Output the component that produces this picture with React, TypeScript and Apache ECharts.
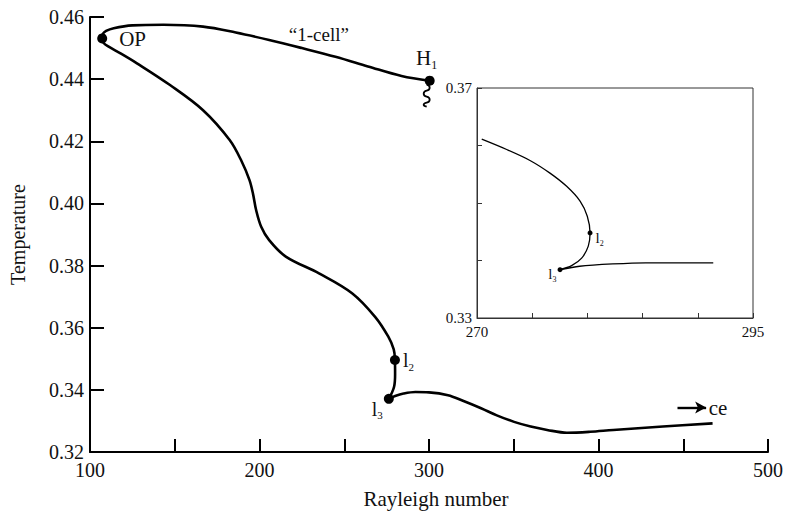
import React, { useEffect, useRef } from "react";
import * as echarts from "echarts";

// ---- data (Rayleigh number, Temperature) ----
const mainCurve: [number, number][] = [
  [300.4, 0.4395], [283.8, 0.441], [264.0, 0.4441], [244.8, 0.4472], [225.0, 0.45],
  [205.7, 0.4526], [186.0, 0.455], [166.7, 0.4569], [143.3, 0.4575], [125.0, 0.4573],
  [114.0, 0.4564], [109.5, 0.4555], [107.3, 0.4544], [106.6, 0.4532], [107.8, 0.4518],
  [110.5, 0.4506], [118.0, 0.4483], [127.7, 0.4451], [147.2, 0.4381], [166.7, 0.43],
  [182.4, 0.4204], [189.5, 0.4135], [194.1, 0.4075], [196.2, 0.403], [198.0, 0.3979],
  [201.0, 0.3925], [205.7, 0.3882], [215.5, 0.3829], [235.1, 0.3775], [254.6, 0.3711],
  [268.2, 0.3635], [276.0, 0.3571], [279.2, 0.353], [279.9, 0.3496], [280.0, 0.345],
  [279.4, 0.341], [276.3, 0.3371],
];
const tailCurve: [number, number][] = [
  [276.3, 0.3371], [280.0, 0.338], [285.0, 0.3388], [292.0, 0.3393], [300.0, 0.3392],
  [311.2, 0.3383], [320.0, 0.3365], [330.7, 0.3341], [340.0, 0.3318], [350.2, 0.3297],
  [360.0, 0.3282], [369.7, 0.3271], [381.4, 0.3262], [395.0, 0.3265], [408.7, 0.3271],
  [438.0, 0.3282], [467.3, 0.3292],
];
const insetCurve: [number, number][] = [
  [270.43, 0.3611], [272.69, 0.3593], [274.8, 0.3574], [276.61, 0.3552], [278.12, 0.3529],
  [279.35, 0.3503], [279.99, 0.3477], [280.24, 0.3448], [280.08, 0.3425], [279.48, 0.3404],
  [278.57, 0.3391], [277.52, 0.3384],
];
const insetTail: [number, number][] = [
  [277.52, 0.3384], [279.3, 0.339], [282.3, 0.3394], [285.3, 0.3396], [291.4, 0.3396],
];

const mainPointNames = ["OP", "H1", "l2", "l3"];
const mainPointCoords: [number, number][] = [
  [107.2, 0.4531], [300.4, 0.4395], [279.9, 0.3496], [276.3, 0.3371],
];
const insetPointNames = ["l2", "l3"];
const insetPointCoords: [number, number][] = [[280.24, 0.3448], [277.52, 0.3384]];

const noteTexts = ["“1-cell”", "ce"];
const noteCoords: [number, number][] = [[235, 0.4545], [465, 0.3343]];
const arrowFrom: [number, number] = [446.6, 0.3343];
const arrowTo: [number, number] = [463.5, 0.3343];

const mainXRange = [100, 500];
const mainYRange = [0.32, 0.46];
const insetXRange = [270, 295];
const insetYRange = [0.33, 0.37];

const SERIF = "'Liberation Serif', 'Times New Roman', serif";
const INK = "#111";

echarts.graphic.registerShape(
  "squiggle",
  echarts.graphic.extendPath(
    "M0 0 C4 1 4 5 0 6 C-4 7 -4 11 0 12 C4 13 4 17 0 18 C-4 19 -4 21 0 22",
    {}
  ) as any
);

const richBig = (size: number) => ({
  b: { fontFamily: SERIF, fontSize: size, color: INK, lineHeight: size + 2, verticalAlign: "top" },
  s: { fontFamily: SERIF, fontSize: Math.round(size * 0.55), color: INK, lineHeight: Math.round(size * 0.55), verticalAlign: "bottom" },
});

const labelText = (name: string) => {
  const m = name.match(/^([A-Za-z]+)(\d)$/);
  if (m) return `{b|${m[1]}}{s|${m[2]}}`;
  return `{b|${name}}`;
};

const mainLabelPos: Record<string, any> = {
  OP: { position: "right", distance: 12, offset: [0, 2] },
  H1: { position: "top", distance: 5, offset: [-3, 0] },
  l2: { position: "right", distance: 3, offset: [0, 1] },
  l3: { position: "left", distance: 1, offset: [0, 11] },
};
const insetLabelPos: Record<string, any> = {
  l2: { position: "right", distance: 3, offset: [0, 6] },
  l3: { position: "left", distance: 1, offset: [0, 5] },
};

export default function App() {
  const ref = useRef<HTMLDivElement>(null);
  useEffect(() => {
    if (!ref.current) return;
    const chart = echarts.init(ref.current, undefined, { renderer: "svg" });
    const axisLine = { show: true, lineStyle: { color: "#000", width: 2 } };
    const option: any = {
      animation: false,
      backgroundColor: "#fff",
      textStyle: { fontFamily: SERIF },
      grid: [
        { left: 86, top: 17, width: 683, height: 435 },
        { left: 477, top: 88, width: 276, height: 230, show: true, borderColor: "#333", borderWidth: 1, backgroundColor: "transparent" },
      ],
      xAxis: [
        {
          type: "value", gridIndex: 0, min: mainXRange[0], max: mainXRange[1], interval: 50,
          name: "Rayleigh number", nameLocation: "middle", nameGap: 36,
          nameTextStyle: { fontFamily: SERIF, fontSize: 21, color: INK, padding: [0, 0, 0, 14] },
          axisLine, splitLine: { show: false },
          axisTick: { show: true, inside: true, length: 13, lineStyle: { color: "#000", width: 2 } },
          axisLabel: {
            fontFamily: SERIF, fontSize: 20, color: INK, margin: 8,
            formatter: (v: number) => (v % 100 === 0 ? String(v) : ""),
          },
        },
        {
          type: "value", gridIndex: 1, min: insetXRange[0], max: insetXRange[1], interval: 5,
          axisLine: { show: true, lineStyle: { color: "#333", width: 1 } }, splitLine: { show: false },
          axisTick: { show: true, inside: true, length: 5, lineStyle: { color: "#333", width: 1 } },
          axisLabel: {
            fontFamily: SERIF, fontSize: 15, color: INK, margin: 6,
            formatter: (v: number) => (v === insetXRange[0] || v === insetXRange[1] ? String(v) : ""),
          },
        },
      ],
      yAxis: [
        {
          type: "value", gridIndex: 0, min: mainYRange[0], max: mainYRange[1], interval: 0.02,
          name: "Temperature", nameLocation: "middle", nameGap: 62,
          nameTextStyle: { fontFamily: SERIF, fontSize: 20, color: INK },
          axisLine, splitLine: { show: false },
          axisTick: { show: true, inside: true, length: 14, lineStyle: { color: "#000", width: 2 } },
          axisLabel: { fontFamily: SERIF, fontSize: 20, color: INK, margin: 6, formatter: (v: number) => v.toFixed(2) },
        },
        {
          type: "value", gridIndex: 1, min: insetYRange[0], max: insetYRange[1], interval: 0.01,
          axisLine: { show: true, lineStyle: { color: "#333", width: 1 } }, splitLine: { show: false },
          axisTick: { show: true, inside: true, length: 5, lineStyle: { color: "#333", width: 1 } },
          axisLabel: {
            fontFamily: SERIF, fontSize: 15, color: INK, margin: 5,
            formatter: (v: number) =>
              Math.abs(v - insetYRange[0]) < 1e-9 || Math.abs(v - insetYRange[1]) < 1e-9 ? v.toFixed(2) : "",
          },
        },
      ],
      series: [
        {
          type: "line", xAxisIndex: 0, yAxisIndex: 0, data: mainCurve, smooth: 0.35,
          showSymbol: false, lineStyle: { color: "#000", width: 2.6 }, silent: true,
        },
        {
          type: "line", xAxisIndex: 0, yAxisIndex: 0, data: tailCurve, smooth: 0.35,
          showSymbol: false, lineStyle: { color: "#000", width: 2.6 }, silent: true,
          markLine: {
            silent: true, symbol: ["none", "arrow"], symbolSize: [9, 11],
            lineStyle: { color: "#000", width: 2.4, type: "solid" }, label: { show: false },
            data: [[{ coord: arrowFrom }, { coord: arrowTo }]],
          },
        },
        {
          type: "line", xAxisIndex: 1, yAxisIndex: 1, data: insetCurve, smooth: 0.3,
          showSymbol: false, lineStyle: { color: "#000", width: 1.3 }, silent: true,
        },
        {
          type: "line", xAxisIndex: 1, yAxisIndex: 1, data: insetTail, smooth: 0.3,
          showSymbol: false, lineStyle: { color: "#000", width: 1.3 }, silent: true,
        },
        {
          type: "scatter", xAxisIndex: 0, yAxisIndex: 0, symbolSize: 10, silent: true,
          itemStyle: { color: "#000", opacity: 1 },
          data: mainPointNames.map((n, i) => ({
            name: n, value: mainPointCoords[i],
            label: {
              show: true, formatter: labelText(n), color: INK, opacity: 1,
              rich: richBig(n === "OP" || n === "H1" ? 21 : 20),
              ...mainLabelPos[n],
            },
          })),
        },
        {
          type: "scatter", xAxisIndex: 1, yAxisIndex: 1, symbolSize: 5, silent: true,
          itemStyle: { color: "#000", opacity: 1 },
          data: insetPointNames.map((n, i) => ({
            name: n, value: insetPointCoords[i],
            label: { show: true, formatter: labelText(n), color: INK, opacity: 1, rich: richBig(15), ...insetLabelPos[n] },
          })),
        },
        {
          type: "scatter", xAxisIndex: 0, yAxisIndex: 0, symbolSize: 0, silent: true,
          itemStyle: { opacity: 1 },
          data: noteTexts.map((t, i) => ({
            name: t, value: noteCoords[i],
            label: {
              show: true, formatter: t, fontFamily: SERIF, color: INK, opacity: 1,
              fontSize: i === 0 ? 19 : 21,
              position: i === 0 ? "inside" : "right", distance: 0,
            },
          })),
        },
      ],
    };
    chart.setOption(option);
    const p = chart.convertToPixel({ gridIndex: 0 }, mainPointCoords[1]) as number[];
    chart.setOption({
      graphic: [
        {
          type: "squiggle", x: p[0] - 3, y: p[1] + 4,
          style: { stroke: "#000", fill: "none", lineWidth: 1.8 },
          silent: true,
        },
      ],
    });
    return () => chart.dispose();
  }, []);
  return (
    <div
      ref={ref}
      style={{ position: "fixed", left: 0, top: 0, width: 786, height: 514, background: "#fff" }}
    />
  );
}
